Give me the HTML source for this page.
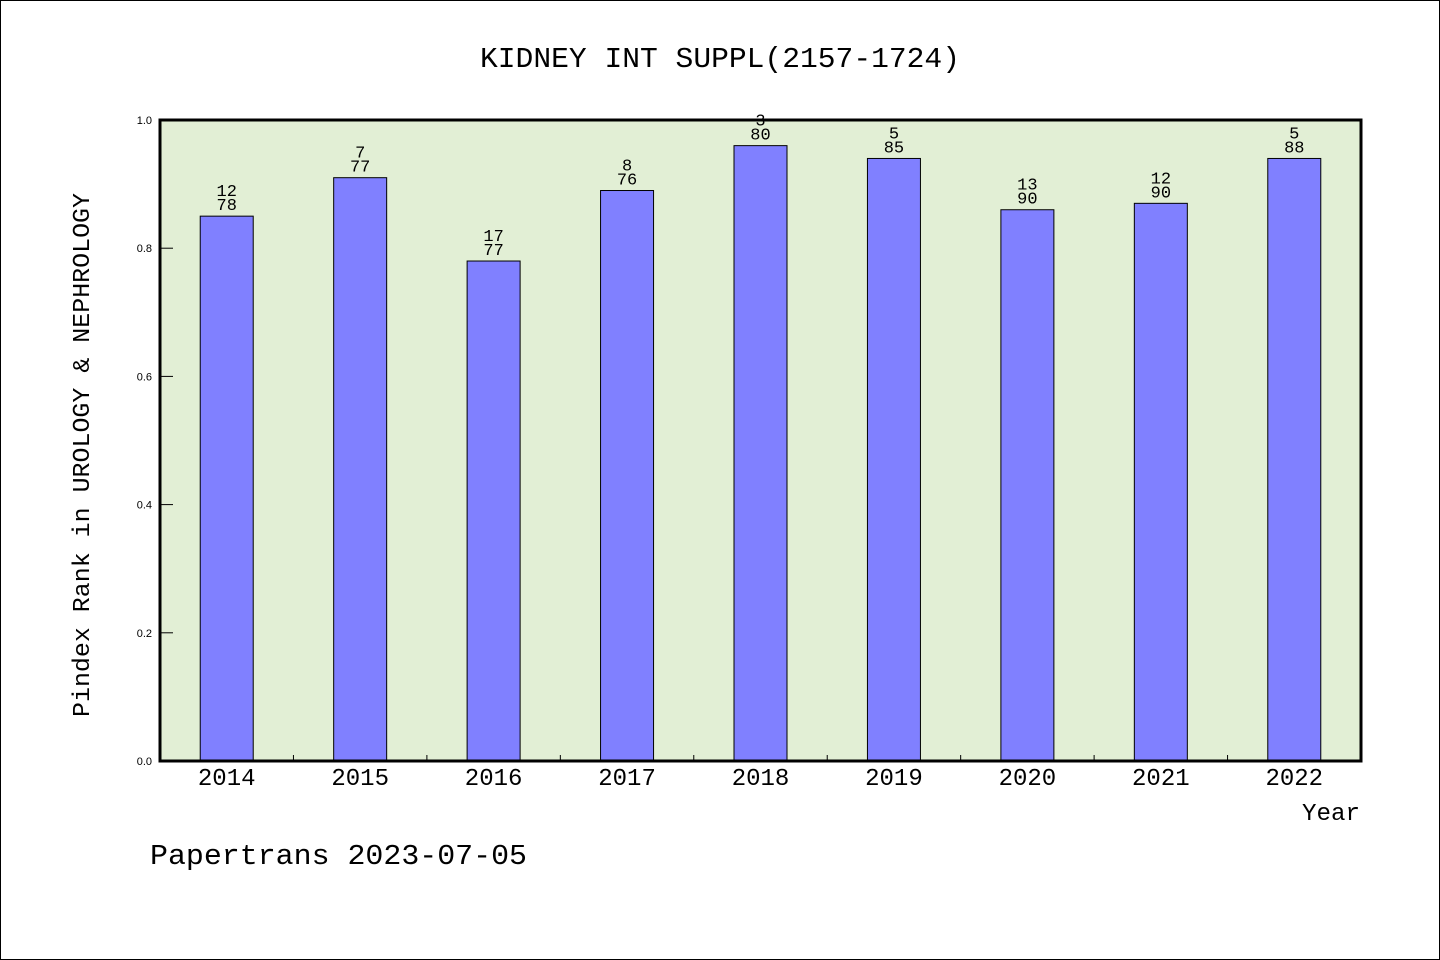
<!DOCTYPE html>
<html><head><meta charset="utf-8"><style>
html,body{margin:0;padding:0;background:#fff;}
svg{display:block;font-family:"WenQuanYi Zen Hei Mono","Liberation Mono","WenQuanYi Zen Hei",monospace;}
</style></head><body>
<svg id="chart" width="1440" height="960" xmlns="http://www.w3.org/2000/svg">
<rect x="0.5" y="0.5" width="1439" height="959" fill="#fff" stroke="#000"/>
<text x="480" y="67" font-size="29" textLength="480" lengthAdjust="spacingAndGlyphs">KIDNEY INT SUPPL(2157-1724)</text>
<rect x="160" y="120" width="1201" height="641" fill="#e2efd5"/>
<g id="bars"></g>
<rect x="160" y="120" width="1201" height="641" fill="none" stroke="#000" stroke-width="3"/>
<g id="ticks"></g>
<g id="labels"></g>
<text transform="translate(89,717) rotate(-90)" font-size="24" textLength="524" lengthAdjust="spacingAndGlyphs">Pindex Rank in UROLOGY &amp; NEPHROLOGY</text>
<text x="1302" y="820" font-size="24" textLength="58" lengthAdjust="spacingAndGlyphs">Year</text>
<text x="150" y="864" font-size="29" textLength="377" lengthAdjust="spacingAndGlyphs">Papertrans 2023-07-05</text>
</svg>
<script>
const categories = ["2014","2015","2016","2017","2018","2019","2020","2021","2022"];
const values = [0.85,0.91,0.78,0.89,0.96,0.94,0.86,0.87,0.94];
const ranks = ["12","7","17","8","3","5","13","12","5"];
const totals = ["78","77","77","76","80","85","90","90","88"];
const yTicks = [0.0,0.2,0.4,0.6,0.8,1.0];
const yTickLabels = ["0.0","0.2","0.4","0.6","0.8","1.0"];

const NS="http://www.w3.org/2000/svg";
const L=160,R=1361,T=120,B=761;
const slot=(R-L)/categories.length;
const x=i=>L+slot*(i+0.5);
const y=v=>B-v*(B-T);
function mk(tag,attrs,parent){const e=document.createElementNS(NS,tag);for(const k in attrs)e.setAttribute(k,attrs[k]);parent.appendChild(e);return e;}
const gb=document.getElementById('bars'),gt=document.getElementById('ticks'),gl=document.getElementById('labels');
const bw=53;
categories.forEach((c,i)=>{
  const r=mk('rect',{x:x(i)-bw/2,y:y(values[i]),width:bw,height:B-y(values[i]),fill:'#8080ff',stroke:'#000','stroke-width':1},gb);
  
  
  const t1=mk('text',{x:x(i),y:y(values[i])-20,'font-size':17,'text-anchor':'middle'},gl);
  t1.textContent=ranks[i];
  
  
  const t2=mk('text',{x:x(i),y:y(values[i])-6,'font-size':17,'text-anchor':'middle'},gl);
  t2.textContent=totals[i];
  
  
  const xl=mk('text',{x:x(i),y:785,'font-size':24,'text-anchor':'middle'},gl);
  xl.textContent=c;
  
  
  if(i>0){
    const tk=mk('line',{x1:L+slot*i,x2:L+slot*i,y1:B,y2:B-6,stroke:'#000','stroke-width':1},gt);
    
    
  }
});
yTicks.forEach((v,i)=>{
  const tk=mk('line',{x1:L,x2:L+13,y1:y(v),y2:y(v),stroke:'#000','stroke-width':1},gt);
  
  
  const tl=mk('text',{x:152,y:y(v)+4,'font-size':11,'text-anchor':'end','font-family':'Liberation Sans, sans-serif'},gl);
  tl.textContent=yTickLabels[i];
  
  
});
</script>
</body></html>
